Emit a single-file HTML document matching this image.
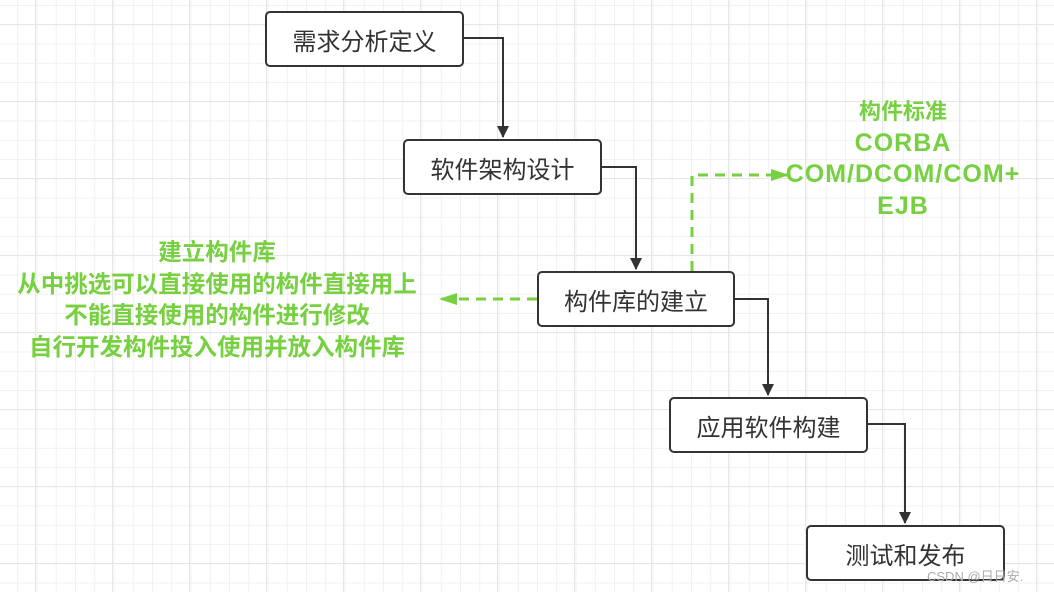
<!DOCTYPE html>
<html><head><meta charset="utf-8"><style>
body{margin:0;width:1054px;height:592px;overflow:hidden;background:#fff;position:relative;font-family:"Liberation Sans","Noto Sans CJK SC",sans-serif;
background-image:linear-gradient(#e6e6e6 1px,transparent 1px),linear-gradient(90deg,#e6e6e6 1px,transparent 1px),linear-gradient(#f1f1f1 1px,transparent 1px),linear-gradient(90deg,#f1f1f1 1px,transparent 1px);
background-size:77px 77px,77px 77px,19.25px 19.25px,19.25px 19.25px;background-position:0 24px,35px 0,0 5px,-2px 0;}
.b{position:absolute;border:2px solid #333;border-radius:5px;background:#fff;display:flex;align-items:center;justify-content:center;font-size:24px;color:#333;box-sizing:border-box}
.g{position:absolute;color:#77d03f;font-weight:bold;text-align:center;line-height:31.5px;font-family:"Liberation Sans","Noto Sans CJK SC",sans-serif;white-space:nowrap}
.l{font-size:25px;letter-spacing:1px}
svg{position:absolute;left:0;top:0}
</style></head><body>
<svg width="1054" height="592">
<defs><marker id="a" markerWidth="12" markerHeight="12" refX="11" refY="6" orient="auto" markerUnits="userSpaceOnUse"><path d="M0,0L12,6L0,12z" fill="#333"/></marker>
<marker id="g" markerWidth="18" markerHeight="12" refX="17" refY="6" orient="auto" markerUnits="userSpaceOnUse"><path d="M0,0L18,6L0,12z" fill="#77d03f"/></marker></defs>
<g fill="none" stroke="#333" stroke-width="2">
<path d="M463,38H503V137" marker-end="url(#a)"/>
<path d="M602,167H636V269" marker-end="url(#a)"/>
<path d="M734,299H768V395" marker-end="url(#a)"/>
<path d="M867,424H905V523" marker-end="url(#a)"/>
</g>
<g fill="none" stroke="#77d03f" stroke-width="3" stroke-dasharray="10,7">
<path d="M692,271V175H788" marker-end="url(#g)"/>
<path d="M537,299H440" marker-end="url(#g)"/>
</g>
</svg>
<div class="b" style="left:265px;top:11px;width:199px;height:56px">需求分析定义</div>
<div class="b" style="left:403px;top:139px;width:199px;height:56px">软件架构设计</div>
<div class="b" style="left:537px;top:271px;width:198px;height:56px">构件库的建立</div>
<div class="b" style="left:669px;top:397px;width:199px;height:56px">应用软件构建</div>
<div class="b" style="left:806px;top:525px;width:199px;height:56px">测试和发布</div>
<div class="g" style="left:760px;top:96px;width:286px;font-size:22px">构件标准<br><span class="l">CORBA</span><br><span class="l">COM/DCOM/COM+</span><br><span class="l">EJB</span></div>
<div class="g" style="left:0;top:237px;width:434px;font-size:23.5px">建立构件库<br>从中挑选可以直接使用的构件直接用上<br>不能直接使用的构件进行修改<br>自行开发构件投入使用并放入构件库</div>
<div style="position:absolute;left:927px;top:566px;font-size:13px;color:#aaa">CSDN @日日安.</div>
</body></html>
